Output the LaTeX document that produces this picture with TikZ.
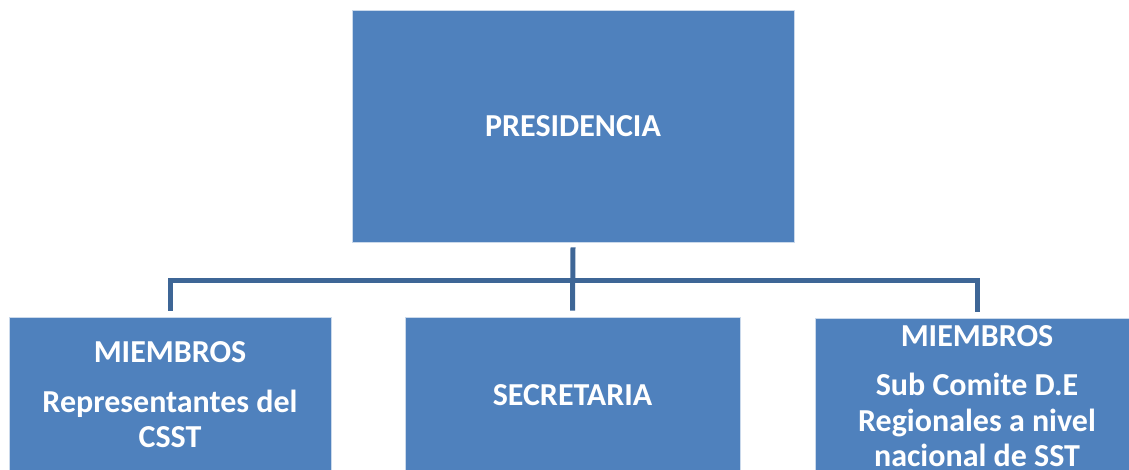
\documentclass[tikz,border=0pt]{standalone}
\usepackage{fontspec}
\setmainfont{Carlito}
\usepackage{xcolor}
\usetikzlibrary{positioning, calc}
\definecolor{boxblue}{HTML}{4F81BD}
\definecolor{linkblue}{HTML}{3E6696}

\begin{document}
\begin{tikzpicture}[x=1pt, y=-1pt,
    unit/.style={draw=white!70!boxblue, line width=0.8pt, fill=boxblue, text=white, align=center,
                 font=\fontsize{32}{35.5}\selectfont\bfseries, inner sep=0pt},
    link/.style={draw=linkblue, line width=5pt}]
      \useasboundingbox (0,0) rectangle (1129,470);
      \clip (0,0) rectangle (1129,470);

      \node[unit, minimum width=442pt, minimum height=232pt] (pres) at (573,126) {PRESIDENCIA};

      \node[unit, minimum width=322pt, minimum height=156pt] (miem) at (170,395) {MIEMBROS\\[14pt]Representantes del\\CSST};
      \node[unit, minimum width=335pt, minimum height=156pt] (secr) at (572.5,395) {SECRETARIA};
      \node[unit, minimum width=324pt, minimum height=156pt] (sub) at (977,396) {MIEMBROS\\[14pt]Sub Comite D.E\\Regionales a nivel\\nacional de SST};

      \coordinate (hub) at (573,280);
      \draw[link] ([yshift=-5pt]pres.south) -- ([yshift=6pt]secr.north);
      \draw[link] ([yshift=6pt]miem.north) |- (hub) -| ([yshift=6pt]sub.north);

\end{tikzpicture}
\end{document}
